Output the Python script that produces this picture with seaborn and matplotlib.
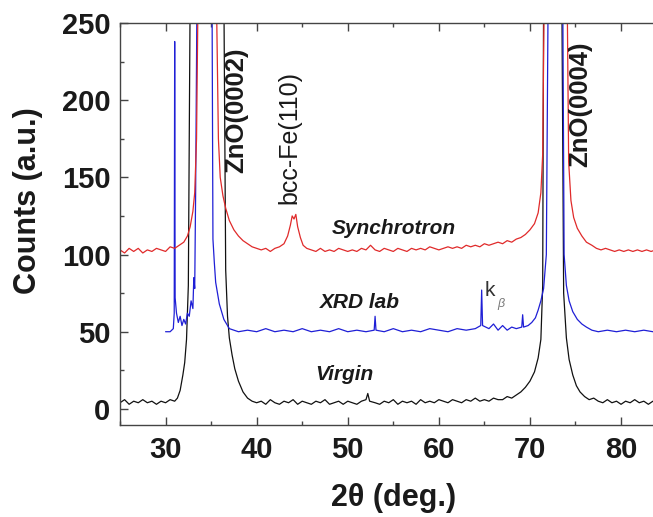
import numpy as np
import pandas as pd
import seaborn as sns
import matplotlib.pyplot as plt
from matplotlib.ticker import MultipleLocator

# Synchrotron scan (red)
syn_2theta = [25.0, 25.5, 26.0, 26.5, 27.0, 27.5, 28.0, 28.5, 29.0, 29.5, 30.0, 30.5, 31.0, 31.5, 32.0,
              32.4, 32.7, 33.0, 33.2, 33.4, 33.55,
              34.5,
              35.6, 35.8, 36.0, 36.3, 36.6, 37.0,
              37.5, 38.0, 38.5, 39.0, 39.5, 40.0, 40.5, 41.0, 41.5, 42.0, 42.5, 43.0,
              43.4, 43.7, 43.9, 44.1, 44.3, 44.5, 44.8, 45.1,
              45.5,
              46.0, 46.5, 47.0, 47.5, 48.0, 48.5, 49.0, 49.5, 50.0, 50.5,
              51.0, 51.5, 52.0, 52.5, 53.0, 53.5, 54.0, 54.5, 55.0, 55.5,
              56.0, 56.5, 57.0, 57.5, 58.0, 58.5, 59.0, 59.5, 60.0, 60.5,
              61.0, 61.5, 62.0, 62.5, 63.0, 63.5, 64.0, 64.5, 65.0, 65.5,
              66.0, 66.5, 67.0, 67.5, 68.0, 68.5, 69.0, 69.5, 70.0, 70.5,
              70.9, 71.2, 71.4, 71.55,
              72.8,
              74.1, 74.25, 74.5, 74.8, 75.2, 75.7, 76.2, 76.8,
              77.3, 77.8, 78.3, 78.8, 79.3, 79.8, 80.3, 80.8, 81.3, 81.8, 82.3, 82.8, 83.3, 83.8, 84.3,
              85.0]
syn_counts = [103, 101, 104, 102, 104, 101, 103, 102, 104, 103, 102, 105, 104, 106, 108,
              112, 118, 128, 140, 175, 260,
              320,
              260, 175, 150, 138, 130, 122,
              116, 112, 109, 107, 105, 104, 103, 104, 102, 104, 105, 107,
              112, 119, 125, 123, 126, 118, 111, 106,
              104,
              103, 102, 104, 102, 103, 102, 104, 103, 102, 103,
              102, 104, 103, 106, 103, 102, 104, 103, 102, 104,
              103, 102, 104, 103, 104, 103, 105, 104, 103, 104,
              105, 104, 105, 104, 106, 105, 106, 105, 107, 106,
              107, 108, 107, 109, 108, 110, 111, 113, 116, 120,
              127, 140, 165, 260,
              320,
              260, 160, 135, 124, 117, 112, 108, 106,
              104, 103, 104, 103, 102, 103, 102, 103, 102, 103, 102, 103, 102, 103, 102,
              103]

# Lab diffractometer scan (blue)
xrd_2theta = [30.0, 30.5, 30.85, 30.95, 31.0, 31.05, 31.2, 31.4, 31.6, 31.8,
              32.0, 32.2, 32.4, 32.6, 32.8, 33.0, 33.1, 33.2, 33.3, 33.45,
              34.3, 35.1, 35.2, 35.35, 35.5, 35.7, 35.9, 36.1, 36.4, 36.7,
              37.0, 37.5, 38.0, 39.0, 40.0, 41.0, 42.0, 43.0, 44.0, 45.0,
              46.0, 47.0, 48.0, 49.0, 50.0, 51.0, 52.0, 52.9, 53.0, 53.1,
              54.0, 55.0, 56.0, 57.0, 58.0, 59.0, 60.0, 61.0, 62.0, 63.0,
              64.0, 64.6, 64.7, 64.8, 65.5, 66.0, 66.5, 67.0, 67.5, 68.0,
              68.5, 69.1, 69.2, 69.3, 69.8, 70.2, 70.6, 70.9, 71.2, 71.5,
              71.8, 72.0, 72.8, 73.6, 73.75, 74.0, 74.3, 74.7, 75.2, 75.7,
              76.2, 76.8, 77.5, 78.5, 79.5, 80.5, 81.5, 82.5, 83.5, 85.0]
xrd_counts = [50, 50, 52, 62, 238, 72, 62, 56, 60, 54,
              58, 55, 62, 60, 70, 65, 85, 78, 140, 270,
              330, 270, 110, 95, 82, 75, 68, 64, 58, 55,
              52, 51, 50, 51, 50, 52, 50, 51, 50, 52,
              50, 51, 50, 52, 50, 51, 50, 51, 60, 51,
              50, 52, 50, 51, 50, 52, 51, 50, 52, 51,
              52, 54, 77, 54, 52, 55, 51, 54, 51, 53,
              52, 53, 61, 53, 54, 56, 59, 64, 70, 78,
              100, 270, 330, 270, 100, 80, 70, 63, 58, 55,
              53, 51, 50, 51, 50, 51, 50, 51, 50, 50]

# Virgin sample (black)
vir_2theta = [25.0, 25.5, 26.0, 26.5, 27.0, 27.5, 28.0, 28.5, 29.0, 29.5, 30.0, 30.5, 31.0,
              31.3, 31.6, 31.9, 32.1, 32.3, 32.5, 32.7,
              34.6,
              36.4, 36.6, 36.8, 37.0, 37.3, 37.6, 38.0, 38.5, 39.0, 39.5,
              40.0, 40.5, 41.0, 41.5, 42.0, 42.5, 43.0, 43.5, 44.0, 44.5, 45.0, 45.5,
              46.0, 46.5, 47.0, 47.5, 48.0, 48.5, 49.0, 49.5, 50.0, 50.5, 51.0, 51.5,
              52.0, 52.2, 52.4,
              53.0, 53.5, 54.0, 54.5, 55.0, 55.5, 56.0, 56.5, 57.0, 57.5, 58.0, 58.5, 59.0, 59.5,
              60.0, 60.5, 61.0, 61.5, 62.0, 62.5, 63.0, 63.5, 64.0, 64.5, 65.0, 65.5, 66.0, 66.5,
              67.0, 67.5, 68.0, 68.5, 69.0, 69.5, 70.0, 70.5, 70.9, 71.2,
              71.4, 71.5, 72.5, 73.5, 73.7, 74.0, 74.3, 74.7, 75.1, 75.5,
              76.0, 76.5, 77.0, 77.5,
              78.0, 78.5, 79.0, 79.5, 80.0, 80.5, 81.0, 81.5, 82.0, 82.5, 83.0, 83.5, 84.0, 84.5, 85.0]
vir_counts = [4, 6, 3, 5, 4, 6, 4, 5, 3, 5, 4, 6, 5,
              7, 12, 22, 30, 45, 80, 270,
              330,
              270, 90, 60, 46, 35, 26, 18, 11, 7, 5,
              4, 5, 3, 6, 4, 3, 5, 4, 6, 3, 5, 4,
              3, 5, 4, 6, 3, 4, 5, 3, 5, 4, 3, 5,
              6, 10, 5,
              4, 3, 5, 4, 6, 3, 5, 4, 5, 3, 6, 4, 5, 4,
              6, 5, 4, 6, 5, 4, 6, 5, 7, 5, 6, 5, 7, 6,
              6, 8, 7, 9, 11, 14, 18, 24, 33, 45,
              80, 270, 330, 270, 75, 46, 32, 22, 15, 11,
              8, 6, 7, 5,
              4, 6, 4, 5, 3, 5, 4, 6, 4, 5, 3, 5, 4, 6, 4]

sns.set_style('ticks')
plt.rcParams['font.family'] = ['Liberation Sans', 'DejaVu Sans']

fig = plt.figure(figsize=(6.53, 5.17), dpi=100)
ax = fig.add_axes([0.1838, 0.178, 0.837, 0.7776])

curves = [(vir_2theta, vir_counts, '#111111'),
          (xrd_2theta, xrd_counts, '#1f1fd6'),
          (syn_2theta, syn_counts, '#e02a2a')]
for tt, cnt, col in curves:
    df = pd.DataFrame({'tt': tt, 'cnt': cnt})
    sns.lineplot(data=df, x='tt', y='cnt', color=col, lw=0.9, ax=ax,
                 sort=False, estimator=None)

ax.set_xlim(25, 85)
ax.set_ylim(-10.4, 250)
ax.xaxis.set_major_locator(MultipleLocator(10))
ax.xaxis.set_minor_locator(MultipleLocator(5))
ax.yaxis.set_major_locator(MultipleLocator(50))
ax.yaxis.set_minor_locator(MultipleLocator(25))
ax.tick_params(which='both', direction='in', top=True, right=False,
               color='#444444', width=1.0, labelsize=21, labelcolor='#1a1a1a')
ax.tick_params(which='major', length=6)
ax.tick_params(which='minor', length=3)
ax.tick_params(axis='x', pad=8)
ax.tick_params(axis='y', pad=7)
for s in ['left', 'top', 'bottom', 'right']:
    ax.spines[s].set_color('#444444')
    ax.spines[s].set_linewidth(1.0)
for lab in ax.get_xticklabels() + ax.get_yticklabels():
    lab.set_fontweight('bold')

ax.set_xlabel('2\u03b8 (deg.)', fontsize=22, fontweight='bold', color='#1a1a1a')
ax.set_ylabel('Counts (a.u.)', fontsize=22, fontweight='bold', color='#1a1a1a')
ax.xaxis.set_label_coords(0.5, -0.145)
ax.yaxis.set_label_coords(-0.141, 0.557)

# peak labels
ax.text(37.8, 153, 'ZnO(0002)', rotation=90, ha='center', va='bottom',
        fontsize=18.5, fontweight='bold', color='#1a1a1a')
ax.text(75.5, 157, 'ZnO(0004)', rotation=90, ha='center', va='bottom',
        fontsize=18.5, fontweight='bold', color='#1a1a1a')
ax.text(43.6, 133, 'bcc-Fe(110)', rotation=90, ha='center', va='bottom',
        fontsize=18, color='#1a1a1a')

# curve names
ax.text(48.2, 117, 'Synchrotron', fontsize=15, fontweight='bold', fontstyle='italic',
        va='center', color='#1a1a1a')
ax.text(46.9, 69, 'XRD lab', fontsize=15, fontweight='bold', fontstyle='italic',
        va='center', color='#1a1a1a')
ax.text(46.4, 22, 'Virgin', fontsize=15, fontweight='bold', fontstyle='italic',
        va='center', color='#1a1a1a')

# k-beta mark
ax.text(65.05, 77, 'k', fontsize=15, va='center', color='#333333')
ax.text(66.4, 68, '\u03b2', fontsize=9, fontstyle='italic', va='center', color='#777777')

fig.savefig('out.png', dpi=100)
